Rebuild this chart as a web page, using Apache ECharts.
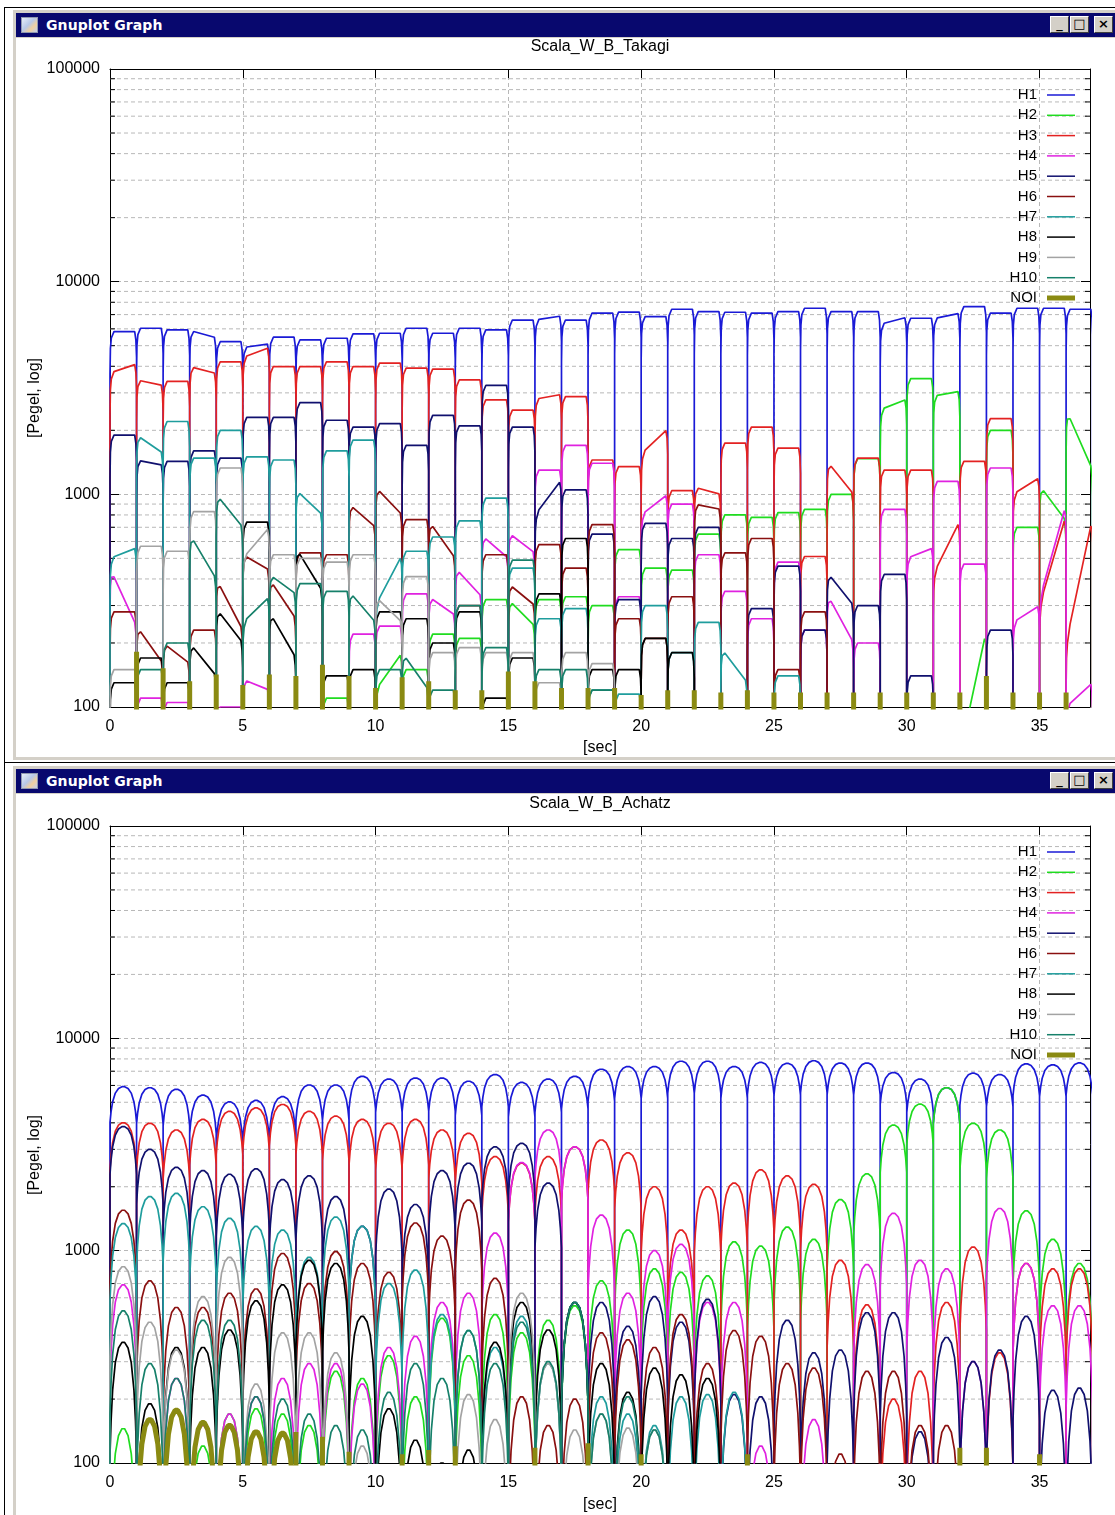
<!DOCTYPE html>
<html>
<head>
<meta charset="utf-8">
<title>Gnuplot Graph</title>
<script src="https://cdn.jsdelivr.net/npm/echarts/dist/echarts.min.js"></script>
<style>
  html, body { margin: 0; padding: 0; background: #fff; }
  body { width: 1115px; height: 1515px; position: relative; overflow: hidden; font-family: "Liberation Sans", Arial, sans-serif; }
  .edge { position: absolute; background: #000; }
  .win { position: absolute; background: #d4d0c8; border-top: 1px solid #fff; border-left: 1px solid #fff; box-sizing: border-box; }
  .bar { position: absolute; background: #08086e; color: #fff; font: bold 14px "DejaVu Sans", "Liberation Sans", sans-serif; }
  .bar .caption { position: absolute; left: 30px; top: 4px; letter-spacing: 0.1px; }
  .bar .icon { position: absolute; left: 5px; top: 4px; width: 17px; height: 16px; background: linear-gradient(135deg, #e8eef8 0%, #b8c8e8 45%, #f0d0a0 70%, #c0d0f0 100%); border: 1px solid #9098b0; box-sizing: border-box; }
  .btn { position: absolute; top: 3px; width: 19px; height: 17px; background: #d4d0c8; color: #000; box-sizing: border-box;
         border-top: 1px solid #fff; border-left: 1px solid #fff; border-right: 1px solid #404040; border-bottom: 1px solid #404040;
         font: bold 13px "DejaVu Sans", sans-serif; line-height: 14px; text-align: center; }
  .client { position: absolute; background: #fff; }
  #chart { position: absolute; left: 0; top: 0; width: 1115px; height: 1515px; z-index: 5; }
</style>
</head>
<body>
<!-- outer frame lines -->
<div class="edge" style="left:4px;top:7px;width:1111px;height:1px"></div>
<div class="edge" style="left:4px;top:7px;width:1px;height:1508px"></div>
<div class="edge" style="left:4px;top:762px;width:1111px;height:1px"></div>

<!-- upper window -->
<div class="win" style="left:12px;top:9px;width:1103px;height:751px">
  <div class="bar" style="left:3px;top:3px;right:0;height:24px">
    <div class="icon"></div><div class="caption">Gnuplot Graph</div>
    <div class="btn" style="right:46px">_</div>
    <div class="btn" style="right:26px">□</div>
    <div class="btn" style="right:2px">×</div>
  </div>
  <div class="client" style="left:3px;top:28px;right:0;bottom:3px"></div>
</div>

<!-- lower window -->
<div class="win" style="left:12px;top:765px;width:1103px;height:760px">
  <div class="bar" style="left:3px;top:3px;right:0;height:24px">
    <div class="icon"></div><div class="caption">Gnuplot Graph</div>
    <div class="btn" style="right:46px">_</div>
    <div class="btn" style="right:26px">□</div>
    <div class="btn" style="right:2px">×</div>
  </div>
  <div class="client" style="left:3px;top:28px;right:0;bottom:0"></div>
</div>

<div id="chart"></div>

<script>
// ---------- data ----------
const seriesNames  = ['H1', 'H2', 'H3', 'H4', 'H5', 'H6', 'H7', 'H8', 'H9', 'H10', 'NOI'];
const seriesColors = ['#1a1ad6', '#1fdc1f', '#e32222', '#e022e0', '#10106e', '#8a1010', '#1f9d9d', '#000000', '#a3a3a3', '#16806a', '#8a8a12'];

// note onsets in seconds (one note per second)
const noteOnsets = [0, 1, 2, 3, 4, 5, 6, 7, 8, 9, 10, 11, 12, 13, 14, 15, 16, 17, 18,
                    19, 20, 21, 22, 23, 24, 25, 26, 27, 28, 29, 30, 31, 32, 33, 34, 35, 36];

const xTicks = [0, 5, 10, 15, 20, 25, 30, 35];
const yMajorTicks = [100, 1000, 10000, 100000];
const yMinorTicks = [200, 300, 400, 500, 600, 700, 800, 900,
                     2000, 3000, 4000, 5000, 6000, 7000, 8000, 9000,
                     20000, 30000, 40000, 50000, 60000, 70000, 80000, 90000];

// Scala_W_B_Takagi: level per note (single value or [start, end])
const takagiH1 = [5820, 6040, 5930, [5900, 5450], 5220, [4900, 5100], 5480, 5320, 5420, 5680, 5720, 6040, 5720, 6040, 5930, 6600, [6600, 6900], 6600, 7110, 7190, 6850, 7420, 7230, 7180, 7110, 7230, 7500, 7230, 7230, [6300, 6800], 6730, [6700, 7100], 7630, 7110, 7500, 7500, 7420];
const takagiH2 = [60, 60, 60, 60, 60, 60, 60, 60, 110, 60, [120, 180], 150, 220, 210, 320, [320, 240], 320, 330, 300, 550, 450, 440, 650, 800, 780, 820, 850, 1000, 1470, [2500, 2800], 3500, [2900, 3050], [60, 230], 2000, 700, [1100, 750], [2500, 1300]];
const takagiH3 = [[3720, 4100], [3450, 3250], 3400, [3990, 3700], 4200, [4400, 4900], 3990, 3990, 4200, 3990, 4140, 3920, 3880, 3450, 2780, 2490, [2800, 2950], 2880, 1450, 1350, [1550, 2030], 1040, [1080, 1000], 1740, 2070, 1650, 510, [1430, 1000], 1480, 1300, 1300, [420, 750], 1430, 2270, [1000, 1200], [300, 800], [200, 780]];
const takagiH4 = [[450, 240], 110, 105, 60, 100, [135, 120], 60, 60, 60, 220, 240, 340, [330, 270], [450, 330], [640, 500], [660, 530], 1300, 1700, 1400, 330, [800, 1000], 900, 520, 350, 260, 480, 230, [340, 200], 200, 850, [500, 560], 1150, 470, 1330, [250, 300], [320, 900], [100, 130]];
const takagiH5 = [1900, [1450, 1370], 1430, 1600, 1480, 2300, 2300, 2700, 2230, 2070, 2150, 1700, 2350, 2100, 3250, 2070, [800, 1170], 1050, 650, 320, 730, 620, 700, 60, 290, 460, 230, [430, 300], 300, 420, 140, 60, 60, 230, 60, 60, 60];
const takagiH6 = [280, [240, 160], [200, 160], 230, [400, 230], [520, 440], [400, 260], 530, 520, [900, 700], [1080, 800], 760, [750, 500], 300, 520, [380, 300], 580, 450, 720, 260, 210, 330, [900, 850], 530, 620, 150, 280, 60, 60, 60, 60, 60, 60, 60, 60, 60, 60];
const takagiH7 = [[500, 560], [1900, 1560], 2200, 1480, 2000, 1500, 1450, [1050, 800], 1600, 1800, [300, 520], 540, 630, 750, 960, 450, 260, 290, 120, 115, 300, 180, 250, [190, 130], 60, 140, 60, 60, 60, 60, 60, 60, 60, 60, 60, 60, 60];
const takagiH8 = [130, 170, 130, [200, 140], [290, 200], 740, [280, 170], [560, 350], 140, 150, 280, 260, 200, 280, 110, 170, 340, 620, 150, 150, 210, 180, 60, 60, 60, 60, 60, 60, 60, 60, 60, 60, 60, 60, 60, 60, 60];
const takagiH9 = [150, 570, 540, 830, 1330, [500, 700], 520, 500, 480, 520, [330, 250], 410, 180, 190, 180, 180, 130, 180, 160, 60, 60, 60, 60, 60, 60, 60, 60, 60, 60, 60, 60, 60, 60, 60, 60, 60, 60];
const takagiH10 = [60, 150, 200, [650, 400], [1000, 700], [250, 330], [420, 340], 380, 350, [350, 250], 150, [180, 120], 120, 300, 190, 490, 150, 150, 120, 60, 60, 60, 60, 60, 60, 60, 60, 60, 60, 60, 60, 60, 60, 60, 60, 60, 60];
const takagiNoiTimes = [1, 2, 3, 4, 5, 6, 7, 8, 9, 10, 11, 12, 13, 14, 15, 16, 17, 18, 19, 20, 21, 22, 23, 24, 25, 26, 27, 28, 29, 30, 31, 32, 33, 34, 35, 36];
const takagiNoiLevels = [182, 152, 132, 142, 127, 142, 140, 158, 140, 123, 138, 132, 120, 120, 147, 132, 123, 123, 123, 114, 120, 120, 117, 120, 117, 117, 117, 117, 117, 117, 117, 117, 140, 117, 117, 117];

// Scala_W_B_Achatz: peak level per note
const achatzH1 = [5920, 5850, 5750, 5400, 5020, 5100, 5310, 6030, 6030, 6620, 6430, 6500, 6500, 6280, 6750, 6200, 6430, 6620, 7150, 7360, 7360, 7800, 7800, 7360, 7700, 7620, 7840, 7650, 7650, 6900, 6430, 5850, 6850, 6750, 7580, 7500, 7660];
const achatzH2 = [145, 60, 60, 120, 170, 180, 170, 150, 270, 250, 320, 205, 480, 320, 500, 410, 470, 550, 720, 1250, 820, 790, 760, 1100, 1050, 1290, 1130, 1740, 2300, 3900, 4900, 5850, 3980, 3700, 1540, 1130, 870];
const achatzH3 = [4000, 3980, 3700, 4150, 4530, 4700, 4880, 4530, 4300, 4150, 3980, 4150, 3700, 3570, 2770, 2580, 2770, 3080, 3320, 2890, 2000, 1250, 2000, 2080, 2400, 2250, 2050, 900, 555, 200, 270, 570, 1040, 330, 870, 820, 820];
const achatzH4 = [690, 60, 250, 150, 170, 205, 250, 294, 294, 235, 350, 395, 570, 630, 1210, 2600, 3700, 3080, 1470, 630, 1000, 1070, 570, 570, 120, 60, 160, 60, 860, 1500, 900, 820, 300, 1580, 870, 550, 550];
const achatzH5 = [3840, 3000, 2470, 2380, 2290, 2430, 2160, 2250, 1795, 1300, 1950, 1650, 2380, 2580, 3080, 3200, 2080, 570, 570, 440, 607, 460, 590, 210, 205, 470, 330, 340, 510, 510, 140, 390, 300, 340, 490, 220, 225];
const achatzH6 = [1550, 720, 540, 540, 630, 660, 970, 700, 990, 870, 790, 1350, 1170, 1730, 740, 205, 150, 200, 410, 380, 350, 500, 294, 420, 395, 294, 280, 110, 270, 270, 150, 150, 60, 60, 60, 60, 60];
const achatzH7 = [1340, 1795, 1860, 1610, 1420, 1300, 1250, 930, 1440, 1300, 700, 810, 500, 420, 350, 490, 294, 570, 205, 170, 150, 205, 210, 215, 60, 60, 60, 60, 60, 60, 60, 60, 60, 60, 60, 60, 60];
const achatzH8 = [370, 190, 350, 350, 423, 580, 690, 900, 870, 490, 180, 128, 100, 115, 370, 570, 423, 570, 294, 215, 280, 260, 250, 60, 60, 60, 60, 60, 60, 60, 60, 60, 60, 60, 60, 60, 60];
const achatzH9 = [840, 460, 340, 607, 930, 235, 410, 410, 330, 120, 60, 60, 60, 210, 160, 630, 294, 143, 170, 146, 143, 60, 60, 60, 60, 60, 60, 60, 60, 60, 60, 60, 60, 60, 60, 60, 60];
const achatzH10 = [520, 294, 250, 470, 470, 205, 200, 170, 150, 143, 215, 294, 250, 420, 294, 460, 300, 570, 170, 205, 143, 60, 60, 60, 60, 60, 60, 60, 60, 60, 60, 60, 60, 60, 60, 60, 60];
const achatzNoiHumps = [60, 160, 177, 155, 150, 140, 138, 60, 60, 60, 60, 60, 60, 60, 60, 60, 60, 60, 60, 60, 60, 60, 60, 60, 60, 60, 60, 60, 60, 60, 60, 60, 60, 60, 60, 60, 60];
const achatzNoiTimes = [7, 8, 9, 11, 12, 13, 16, 18, 20, 24, 32, 33, 35];
const achatzNoiLevels = [140, 133, 113, 110, 115, 120, 118, 124, 110, 110, 118, 118, 110];

// ---------- geometry & styling ----------
const X_MAX = 36.9;
const FLOOR = 50;            // below the axis minimum: the trace drops out of view between notes
const NOTE_LEN = 1;
// sustained note: fast attack, flat sustain, short release (log offsets in decades)
const PLATEAU_ENV = [[0, -0.2], [0.015, -0.08], [0.05, -0.03], [0.15, 0], [0.93, 0], [0.975, -0.04], [1, -0.12]];
// domed note: weights of the level drop across the note
const DOME_ENV = [[0, 1], [0.04, 0.7], [0.1, 0.42], [0.2, 0.18], [0.32, 0.05], [0.45, 0], [0.55, 0], [0.68, 0.05], [0.8, 0.18], [0.9, 0.42], [0.96, 0.7], [1, 1]];
const LINE_W = 1.7;

const panels = [
  { title: 'Scala_W_B_Takagi', top: 69, height: 638, shape: 'plateau',
    levels: [takagiH1, takagiH2, takagiH3, takagiH4, takagiH5, takagiH6, takagiH7, takagiH8, takagiH9, takagiH10],
    noiHumps: null, noiTimes: takagiNoiTimes, noiLevels: takagiNoiLevels },
  { title: 'Scala_W_B_Achatz', top: 826, height: 637, shape: 'dome',
    levels: [achatzH1, achatzH2, achatzH3, achatzH4, achatzH5, achatzH6, achatzH7, achatzH8, achatzH9, achatzH10],
    noiHumps: achatzNoiHumps, noiTimes: achatzNoiTimes, noiLevels: achatzNoiLevels }
];

function pair(lv) { return Array.isArray(lv) ? lv : [lv, lv]; }

function plateauPoints(levels) {
  const pts = [];
  levels.forEach((lv, i) => {
    const t = noteOnsets[i];
    const [a, b] = pair(lv);
    const la = Math.log10(a), lb = Math.log10(b);
    pts.push([t, FLOOR]);
    PLATEAU_ENV.forEach(([p, off]) => pts.push([t + p * NOTE_LEN, Math.pow(10, la + (lb - la) * p + off)]));
    pts.push([t + NOTE_LEN, FLOOR]);
  });
  return pts;
}

function domePoints(levels) {
  const pts = [];
  levels.forEach((lv, i) => {
    const t = noteOnsets[i];
    const [a, b] = pair(lv);
    const la = Math.log10(a), lb = Math.log10(b);
    const drop = Math.min(0.75, Math.max(0.15, 1.3 - 0.3 * Math.max(la, lb)));
    pts.push([t, FLOOR]);
    DOME_ENV.forEach(([p, w]) => pts.push([t + p * NOTE_LEN, Math.pow(10, la + (lb - la) * p - drop * w)]));
    pts.push([t + NOTE_LEN, FLOOR]);
  });
  return pts;
}

function spikePoints(times, levels) {
  const pts = [];
  times.forEach((t, k) => { pts.push([t, FLOOR], [t, levels[k]], [t, FLOOR]); });
  return pts;
}

// ---------- option ----------
const grids = [], xAxes = [], yAxes = [], series = [], graphics = [];
const axisFont = { color: '#000', fontFamily: 'Liberation Sans', fontSize: 16 };

panels.forEach((pn, g) => {
  grids.push({ left: 110, top: pn.top, width: 980, height: pn.height });

  // bottom axis with labels, top axis for mirrored ticks
  xAxes.push({
    gridIndex: g, type: 'value', min: 0, max: X_MAX, interval: 5, position: 'bottom',
    axisLine: { show: true, onZero: false, lineStyle: { color: '#000', width: 1 } },
    axisTick: { show: true, inside: true, length: 9, lineStyle: { color: '#000' } },
    axisLabel: { ...axisFont, margin: 12, showMaxLabel: false, formatter: v => (xTicks.includes(v) ? String(v) : '') },
    splitLine: { show: true, lineStyle: { color: '#b8b8b8', type: [4, 3], width: 1 } }
  });
  xAxes.push({
    gridIndex: g, type: 'value', min: 0, max: X_MAX, interval: 5, position: 'top',
    axisLine: { show: true, onZero: false, lineStyle: { color: '#000', width: 1 } },
    axisTick: { show: true, inside: true, length: 9, lineStyle: { color: '#000' } },
    axisLabel: { show: false }, splitLine: { show: false }
  });
  yAxes.push({
    gridIndex: g, type: 'log', logBase: 10, min: 100, max: 100000, position: 'left',
    axisLine: { show: true, onZero: false, lineStyle: { color: '#000', width: 1 } },
    axisTick: { show: true, inside: true, length: 9, lineStyle: { color: '#000' } },
    axisLabel: { ...axisFont, margin: 10, formatter: v => (yMajorTicks.includes(Math.round(v)) ? String(Math.round(v)) : '') },
    splitLine: { show: true, lineStyle: { color: '#b8b8b8', type: [4, 3], width: 1 } }
  });
  yAxes.push({
    gridIndex: g, type: 'log', logBase: 10, min: 100, max: 100000, position: 'right',
    axisLine: { show: true, onZero: false, lineStyle: { color: '#000', width: 1 } },
    axisTick: { show: true, inside: true, length: 9, lineStyle: { color: '#000' } },
    axisLabel: { show: false }, splitLine: { show: false }
  });

  const xi = g * 2, yi = g * 2;

  // minor log grid lines and edge ticks
  series.push({
    type: 'custom', xAxisIndex: xi, yAxisIndex: yi, z: 1, silent: true,
    data: yMinorTicks.map(v => [0, v]),
    encode: { x: 0, y: 1 },
    renderItem: (params, api) => {
      const v = api.value(1);
      const l = api.coord([0, v]), r = api.coord([X_MAX, v]);
      return { type: 'group', children: [
        { type: 'line', shape: { x1: l[0], y1: l[1], x2: r[0], y2: r[1] }, style: { stroke: '#b8b8b8', lineWidth: 1, lineDash: [4, 3] } },
        { type: 'line', shape: { x1: l[0], y1: l[1], x2: l[0] + 5, y2: l[1] }, style: { stroke: '#000', lineWidth: 1 } },
        { type: 'line', shape: { x1: r[0] - 5, y1: r[1], x2: r[0], y2: r[1] }, style: { stroke: '#000', lineWidth: 1 } }
      ] };
    }
  });

  // harmonics
  pn.levels.forEach((lv, k) => {
    series.push({
      name: seriesNames[k], type: 'line', xAxisIndex: xi, yAxisIndex: yi,
      data: pn.shape === 'plateau' ? plateauPoints(lv) : domePoints(lv),
      showSymbol: false, symbol: 'none', clip: true, animation: false, silent: true,
      lineStyle: { color: seriesColors[k], width: LINE_W }, z: 2 + k * 0.01
    });
  });

  // noise (NOI)
  if (pn.noiHumps) {
    series.push({
      name: 'NOI', type: 'line', xAxisIndex: xi, yAxisIndex: yi, data: domePoints(pn.noiHumps),
      showSymbol: false, symbol: 'none', clip: true, animation: false, silent: true,
      lineStyle: { color: seriesColors[10], width: 5, cap: 'butt' }, z: 3
    });
  }
  series.push({
    name: 'NOI', type: 'line', xAxisIndex: xi, yAxisIndex: yi, data: spikePoints(pn.noiTimes, pn.noiLevels),
    showSymbol: false, symbol: 'none', clip: true, animation: false, silent: true,
    lineStyle: { color: seriesColors[10], width: 5, cap: 'butt' }, z: 3
  });

  // titles and axis names
  const off = pn.top - 69;
  graphics.push({ type: 'text', x: 600, y: 47 + off, z: 10,
    style: { text: pn.title, align: 'center', verticalAlign: 'middle', fill: '#000', font: '16px "Liberation Sans"' } });
  graphics.push({ type: 'text', x: 600, y: 748 + off, z: 10,
    style: { text: '[sec]', align: 'center', verticalAlign: 'middle', fill: '#000', font: '16px "Liberation Sans"' } });
  graphics.push({ type: 'text', x: 35, y: 398 + off, rotation: Math.PI / 2, z: 10,
    style: { text: '[Pegel, log]', align: 'center', verticalAlign: 'middle', fill: '#000', font: '16px "Liberation Sans"' } });

  // key
  seriesNames.forEach((nm, k) => {
    const y = 95 + off + k * 20.3;
    graphics.push({ type: 'text', x: 1037, y: y, z: 10,
      style: { text: nm, align: 'right', verticalAlign: 'middle', fill: '#000', font: '15px "Liberation Sans"' } });
    graphics.push({ type: 'line', z: 10, shape: { x1: 1047, y1: y, x2: 1075, y2: y },
      style: { stroke: seriesColors[k], lineWidth: nm === 'NOI' ? 5 : 1.5 } });
  });
});

const chart = echarts.init(document.getElementById('chart'), null, { renderer: 'canvas' });
chart.setOption({
  backgroundColor: 'transparent',
  animation: false,
  grid: grids,
  xAxis: xAxes,
  yAxis: yAxes,
  series: series,
  graphic: graphics
});
</script>
</body>
</html>
